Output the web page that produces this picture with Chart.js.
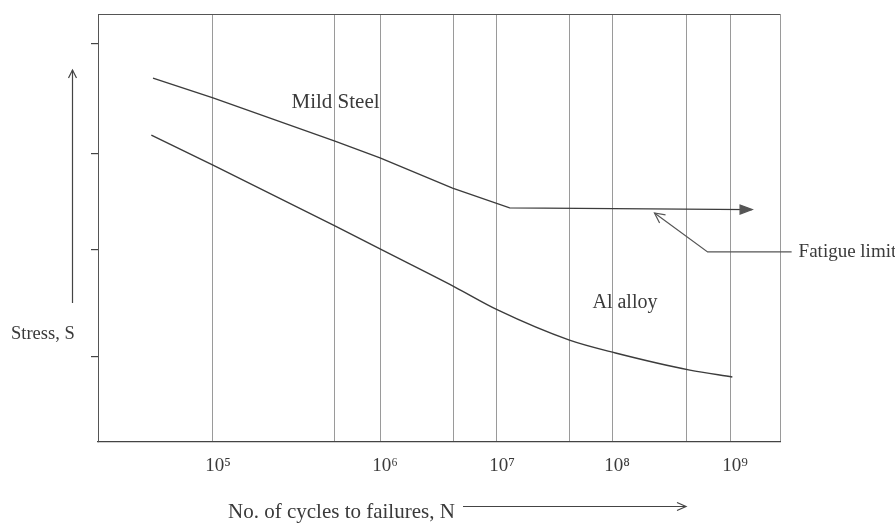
<!DOCTYPE html>
<html>
<head>
<meta charset="utf-8">
<script src="https://cdn.jsdelivr.net/npm/chart.js@4/dist/chart.umd.min.js"></script>
<style>
  html, body { margin: 0; padding: 0; background: #ffffff; }
  #wrap { width: 895px; height: 527px; position: relative; }
</style>
</head>
<body>
<div id="wrap"><canvas id="c" width="895" height="527"></canvas></div>
<script>
// ---- data (x = log10 of cycles N, y = stress S in arbitrary units) ----
const decadeExponents = [5, 6, 7, 8, 9];
const decadeLabels = ['10\u2075', '10\u2076', '10\u2077', '10\u2078', '10\u2079'];
const gridLogN = [5, 5.73, 6, 6.63, 7, 7.63, 8, 8.63, 9];
const stressTicks = [20, 45, 67.5, 93];

const steelLogN   = [4.64, 5.00, 5.73, 6.00, 6.62, 7.11, 9.19];
const steelStress = [85.0, 80.4, 70.3, 66.4, 59.3, 54.7, 54.3];

const alloyLogN   = [4.63, 5.00, 5.73, 6.00, 6.64, 7.01, 7.63, 8.03, 8.66, 9.02];
const alloyStress = [71.7, 64.7, 50.5, 45.1, 36.2, 30.8, 23.8, 20.8, 16.8, 15.2];

const fatigueLimit = 54.5;
const seriesNames = ['Mild Steel', 'Al alloy'];

// ---- schematic (hand-drawn) log axis: decades are not equally wide ----
class SchematicLogScale extends Chart.LinearScale {
  static id = 'schematicLog';
  _frac(v) {
    const a = this.options.anchors;
    let i = 1;
    while (i < a.length - 1 && v > a[i][0]) i++;
    const [v0, f0] = a[i - 1], [v1, f1] = a[i];
    return f0 + (v - v0) * (f1 - f0) / (v1 - v0);
  }
  getPixelForValue(v) {
    if (v === null || v === undefined || isNaN(v)) return NaN;
    return this.getPixelForDecimal(this._frac(v));
  }
  getValueForPixel(p) {
    const f = this.getDecimalForPixel(p);
    const a = this.options.anchors;
    let i = 1;
    while (i < a.length - 1 && f > a[i][1]) i++;
    const [v0, f0] = a[i - 1], [v1, f1] = a[i];
    return v0 + (f - f0) * (v1 - v0) / (f1 - f0);
  }
}
Chart.register(SchematicLogScale);

const FONT = '"Liberation Serif", "Times New Roman", serif';
const INK = '#3a3a3a';

function arrowHead(ctx, x, y, angle, len, half, fill) {
  ctx.save();
  ctx.translate(x, y);
  ctx.rotate(angle);
  ctx.beginPath();
  ctx.moveTo(-len, -half);
  ctx.lineTo(0, 0);
  ctx.lineTo(-len, half);
  if (fill) { ctx.closePath(); ctx.fill(); }
  ctx.stroke();
  ctx.restore();
}

const decorations = {
  id: 'decorations',
  afterDraw(chart) {
    const ctx = chart.ctx;
    const xs = chart.scales.x, ys = chart.scales.y;
    const a = chart.chartArea;
    const X = v => xs.getPixelForValue(v), Y = v => ys.getPixelForValue(v);
    ctx.save();
    ctx.strokeStyle = '#555';
    ctx.lineWidth = 1;
    // top frame line
    ctx.beginPath();
    ctx.moveTo(a.left, a.top + 0.5);
    ctx.lineTo(a.right, a.top + 0.5);
    ctx.stroke();

    // arrow at end of fatigue plateau
    ctx.strokeStyle = '#555';
    ctx.fillStyle = '#555';
    ctx.lineWidth = 1.3;
    const n = steelLogN.length - 1;
    arrowHead(ctx, X(steelLogN[n]), Y(steelStress[n]), 0, 12, 4.5, true);

    // fatigue-limit leader
    const kneeX = X(8.81), kneeY = Y(44.4);
    ctx.lineWidth = 1.2;
    ctx.beginPath();
    ctx.moveTo(X(9.53), kneeY);
    ctx.lineTo(kneeX, kneeY);
    const tipX = X(8.36), tipY = Y(fatigueLimit - 1);
    ctx.lineTo(tipX, tipY);
    ctx.stroke();
    arrowHead(ctx, tipX, tipY, Math.atan2(tipY - kneeY, tipX - kneeX), 10, 5, false);

    // text
    ctx.fillStyle = INK;
    ctx.textBaseline = 'middle';
    ctx.textAlign = 'left';
    ctx.font = '21px ' + FONT;
    ctx.fillText(seriesNames[0], X(5.47), Y(79.4));
    ctx.font = '20px ' + FONT;
    ctx.fillText(seriesNames[1], X(7.83), Y(32.5));
    ctx.font = '19px ' + FONT;
    ctx.fillText('Fatigue limit', X(9.59), kneeY);

    // y-axis title with arrow
    ctx.font = '18.5px ' + FONT;
    ctx.fillText('Stress, S', 11, 334);
    ctx.strokeStyle = '#444';
    ctx.lineWidth = 1.2;
    ctx.beginPath();
    ctx.moveTo(72.5, 303);
    ctx.lineTo(72.5, 70);
    ctx.stroke();
    arrowHead(ctx, 72.5, 70, -Math.PI / 2, 8, 4, false);

    // x-axis title with arrow
    ctx.font = '21px ' + FONT;
    ctx.fillText('No. of cycles to failures, N', 228, 512);
    ctx.beginPath();
    ctx.moveTo(463, 506.5);
    ctx.lineTo(686, 506.5);
    ctx.stroke();
    arrowHead(ctx, 686, 506.5, 0, 9, 4, false);
    ctx.restore();
  }
};

const lineColor = '#3c3c3c';

new Chart(document.getElementById('c'), {
  type: 'line',
  data: {
    datasets: [
      {
        label: seriesNames[0],
        data: steelLogN.map((x, i) => ({ x, y: steelStress[i] })),
        borderColor: lineColor, borderWidth: 1.4, pointRadius: 0, tension: 0, fill: false
      },
      {
        label: seriesNames[1],
        data: alloyLogN.map((x, i) => ({ x, y: alloyStress[i] })),
        borderColor: lineColor, borderWidth: 1.4, pointRadius: 0,
        cubicInterpolationMode: 'monotone', fill: false
      }
    ]
  },
  options: {
    responsive: false,
    animation: false,
    events: [],
    layout: { padding: { top: 14, right: 115, left: 0, bottom: 0 } },
    plugins: { legend: { display: false }, tooltip: { enabled: false } },
    scales: {
      x: {
        type: 'schematicLog',
        min: 4.31, max: 9.43,
        anchors: [[4.31, 0], [5, 0.1686], [6, 0.4135], [7, 0.5850], [8, 0.7537], [9, 0.9267], [9.43, 1]],
        afterBuildTicks: s => { s.ticks = gridLogN.concat([s.max]).map(v => ({ value: v })); },
        afterFit: s => { s.height = 85; },
        grid: { color: '#9a9a9a', lineWidth: 1, drawTicks: false },
        border: { display: true, color: '#444', width: 1.2 },
        ticks: {
          autoSkip: false, maxRotation: 0, padding: 13, labelOffset: 5,
          color: INK, font: { family: FONT, size: 19 },
          callback: v => {
            const k = decadeExponents.indexOf(v);
            return k >= 0 ? decadeLabels[k] : '';
          }
        }
      },
      y: {
        type: 'linear', min: 0, max: 100,
        afterBuildTicks: s => { s.ticks = stressTicks.map(v => ({ value: v })); },
        afterFit: s => { s.width = 98; },
        grid: { drawOnChartArea: false, drawTicks: true, tickLength: 7, color: '#444', lineWidth: 1.2 },
        border: { display: true, color: '#555', width: 1 },
        ticks: { display: false }
      }
    }
  },
  plugins: [decorations]
});
</script>
</body>
</html>
